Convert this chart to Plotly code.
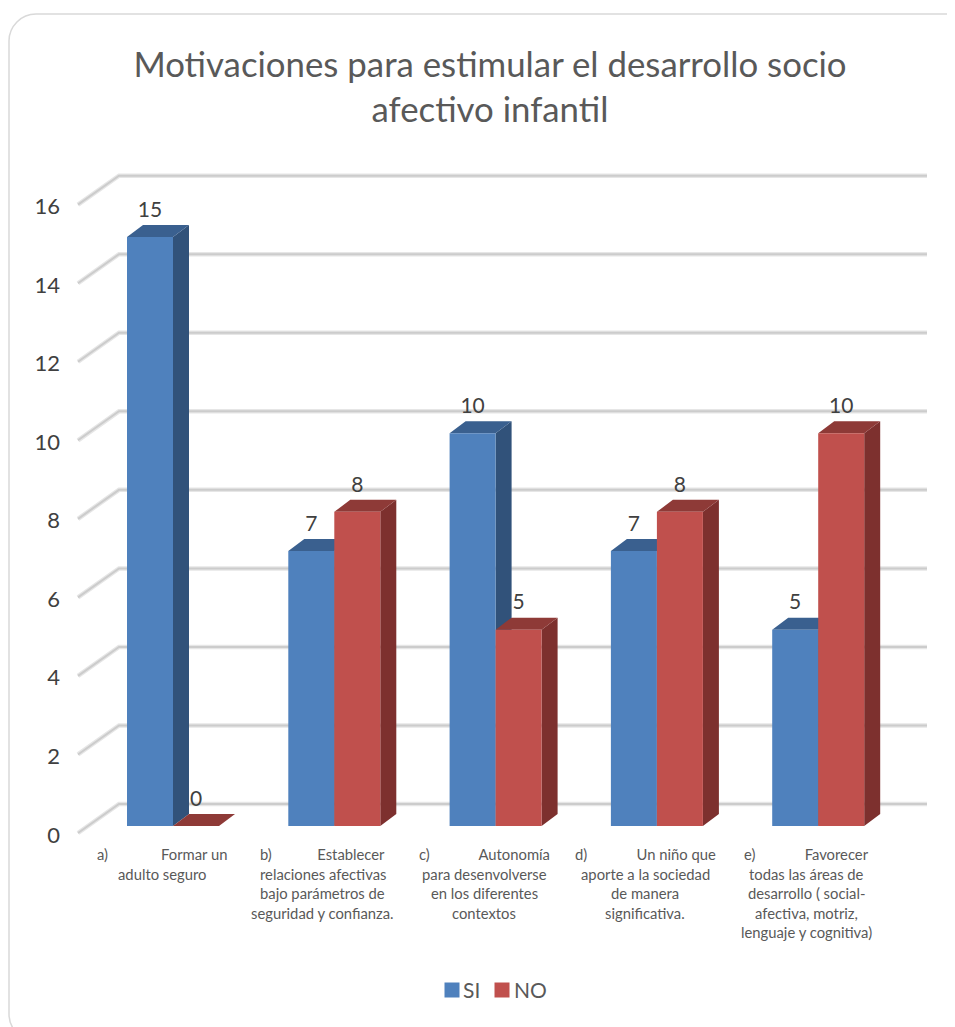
import plotly.graph_objects as go

# ---- data ----
categories = [
    ["a)\u00a0\u00a0\u00a0\u00a0\u00a0\u00a0\u00a0\u00a0\u00a0\u00a0\u00a0\u00a0\u00a0\u00a0Formar un", "adulto seguro"],
    ["b)\u00a0\u00a0\u00a0\u00a0\u00a0\u00a0\u00a0\u00a0\u00a0\u00a0\u00a0\u00a0Establecer", "relaciones afectivas", "bajo parámetros de", "seguridad y confianza."],
    ["c)\u00a0\u00a0\u00a0\u00a0\u00a0\u00a0\u00a0\u00a0\u00a0\u00a0\u00a0\u00a0\u00a0Autonomía", "para desenvolverse", "en los diferentes", "contextos"],
    ["d)\u00a0\u00a0\u00a0\u00a0\u00a0\u00a0\u00a0\u00a0\u00a0\u00a0\u00a0\u00a0\u00a0Un niño que", "aporte a la sociedad", "de manera", "significativa."],
    ["e)\u00a0\u00a0\u00a0\u00a0\u00a0\u00a0\u00a0\u00a0\u00a0\u00a0\u00a0\u00a0\u00a0Favorecer", "todas las áreas de", "desarrollo ( social-", "afectiva, motriz,", "lenguaje y cognitiva)"],
]
si_values = [15, 7, 10, 7, 5]
no_values = [0, 8, 5, 8, 10]
y_ticks = [0, 2, 4, 6, 8, 10, 12, 14, 16]
title_text = "Motivaciones para estimular el desarrollo socio<br>afectivo infantil"

# ---- canvas: the page body keeps an 8 px margin, so the figure fills what is left ----
PAGE_W, PAGE_H, BODY = 955, 1027, 8
W, H = PAGE_W - BODY, PAGE_H - BODY
PX_CAT, PX_VAL = 161.3, 39.27
X0_PX, Y0_PX = 173.0, 826.0
def cx(px): return (px - X0_PX) / PX_CAT
def cy(px): return (Y0_PX - px) / PX_VAL

BAR_W = 46 / PX_CAT
DX, DY = 16 / PX_CAT, 12 / PX_VAL      # bar depth
INK = "#404040"
GREY = "#595959"
FONT = "Lato"

fig = go.Figure()

# gridlines with their left-hand "floor" edge
GF_X, GB_X, GE_X = cx(78), cx(119), cx(927)
GF_Y, GB_Y = cy(833), cy(804)
for shade, w in (("#e6e6e6", 4.5), ("#cccccc", 2)):
    xs, ys = [], []
    for t in y_ticks:
        xs += [GF_X, GB_X, GE_X, None]
        ys += [GF_Y + t, GB_Y + t, GB_Y + t, None]
    fig.add_trace(go.Scatter(x=xs, y=ys, mode="lines", line=dict(color=shade, width=w),
                             hoverinfo="skip", showlegend=False, zorder=0))

# y tick labels
fig.add_trace(go.Scatter(x=[cx(60)] * len(y_ticks), y=[cy(837) + t for t in y_ticks],
                         mode="text", text=[str(t) for t in y_ticks], textposition="middle left",
                         textfont=dict(family=FONT, size=22, color=INK),
                         hoverinfo="skip", showlegend=False, zorder=1))

series = [
    ("SI", si_values, -BAR_W, "#4F81BD", "#31527A", "#3A608F", 1),
    ("NO", no_values, 0.0, "#C0504D", "#7D302E", "#8E3A37", 3),
]
for name, vals, off, front, side, top, z in series:
    xs_side, ys_side, xs_top, ys_top = [], [], [], []
    for i, v in enumerate(vals):
        r = i + off + BAR_W
        l = i + off
        xs_side += [r, r + DX, r + DX, r, r, None]
        ys_side += [0, DY, v + DY, v, 0, None]
        xs_top += [l, l + DX, r + DX, r, l, None]
        ys_top += [v, v + DY, v + DY, v, v, None]
    fig.add_trace(go.Scatter(x=xs_side, y=ys_side, mode="lines", fill="toself", fillcolor=side,
                             line=dict(width=0, color=side), hoverinfo="skip", showlegend=False, zorder=z))
    fig.add_trace(go.Scatter(x=xs_top, y=ys_top, mode="lines", fill="toself", fillcolor=top,
                             line=dict(width=0, color=top), hoverinfo="skip", showlegend=False, zorder=z))
    fig.add_trace(go.Bar(x=list(range(len(vals))), y=vals, width=BAR_W, offset=off, name=name,
                         marker=dict(color=front, line=dict(width=0)), showlegend=False, zorder=z + 1))
    # data labels
    fig.add_trace(go.Scatter(x=[i + off + BAR_W / 2 for i in range(len(vals))],
                             y=[v + 0.65 for v in vals], mode="text",
                             text=[str(v) for v in vals], textposition="middle center",
                             textfont=dict(family=FONT, size=21, color=INK),
                             hoverinfo="skip", showlegend=False, zorder=6))

# legend, drawn as markers with text next to them
for name, px, tx, color in (("SI", 452, 463, "#4F81BD"), ("NO", 502, 514, "#C0504D")):
    fig.add_trace(go.Scatter(x=[cx(px)], y=[cy(990)], mode="markers",
                             marker=dict(symbol="square", size=15, color=color),
                             hoverinfo="skip", showlegend=False, zorder=6))
    fig.add_trace(go.Scatter(x=[cx(tx)], y=[cy(993)], mode="text", text=[name],
                             textposition="middle right",
                             textfont=dict(family=FONT, size=21, color=GREY),
                             hoverinfo="skip", showlegend=False, zorder=6))

# multi-line category labels
for i, lines in enumerate(categories):
    for j, line in enumerate(lines):
        fig.add_annotation(x=i, y=cy(854), yshift=-19.5 * j, text=line,
                           xshift=-11.5, showarrow=False, xanchor="center", yanchor="middle",
                           font=dict(family=FONT, size=14.8, color=GREY))

def path_frame(l, t, r, b, rad):
    def X(p): return (p - BODY) / W
    def Y(p): return 1 - (p - BODY) / H
    k = rad * 0.45
    return (f"M {X(l)} {Y(t + rad)} C {X(l)} {Y(t + k)} {X(l + k)} {Y(t)} {X(l + rad)} {Y(t)} "
            f"L {X(r - rad)} {Y(t)} C {X(r - k)} {Y(t)} {X(r)} {Y(t + k)} {X(r)} {Y(t + rad)} "
            f"L {X(r)} {Y(b - rad)} C {X(r)} {Y(b - k)} {X(r - k)} {Y(b)} {X(r - rad)} {Y(b)} "
            f"L {X(l + rad)} {Y(b)} C {X(l + k)} {Y(b)} {X(l)} {Y(b - k)} {X(l)} {Y(b - rad)} Z")

fig.update_layout(
    width=W, height=H, margin=dict(l=0, r=0, t=0, b=0), autosize=False,
    paper_bgcolor="white", plot_bgcolor="white", barmode="overlay",
    showlegend=False,
    title=dict(text=title_text, x=(490 - BODY) / W, xanchor="center", y=1 - (87 - 10 - BODY) / H, yanchor="middle",
               font=dict(family=FONT, size=34.8, color=GREY)),
    xaxis=dict(range=[cx(BODY), cx(PAGE_W)], visible=False, fixedrange=True),
    yaxis=dict(range=[cy(PAGE_H), cy(BODY)], visible=False, fixedrange=True),
    shapes=[dict(type="path", xref="paper", yref="paper", layer="below",
                 path=path_frame(9, 14, 973, 1041, 27),
                 line=dict(color="#d9d9d9", width=1.5), fillcolor="white")],
)
fig.write_html("out.html", config={"displayModeBar": False})
